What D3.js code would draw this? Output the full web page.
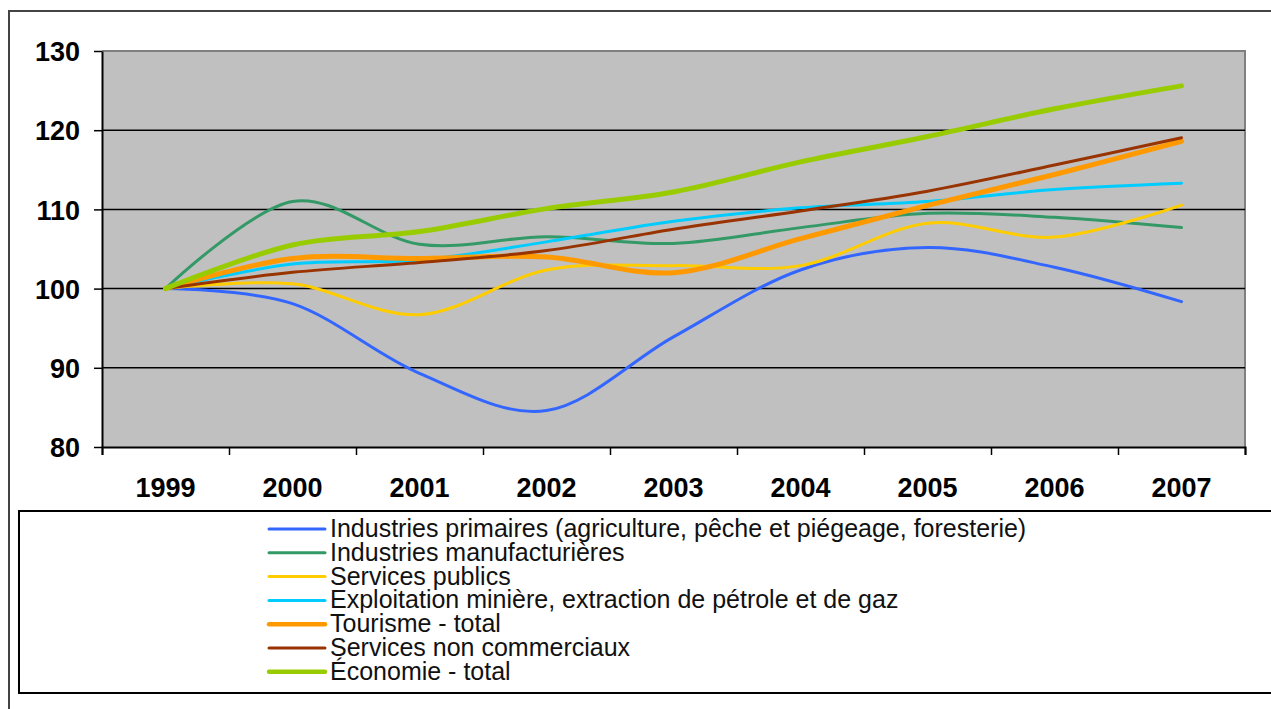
<!DOCTYPE html>
<html>
<head>
<meta charset="utf-8">
<script src="https://cdn.jsdelivr.net/npm/d3@7"></script>
<style>
  body { margin: 0; background: #fff; }
  svg { display: block; font-family: "Liberation Sans", Arial, Helvetica, sans-serif; }
  .tick text { fill: #000; }
</style>
</head>
<body>
<svg id="chart" width="1271" height="709"></svg>
<script>
// categories (years)
const years = ["1999", "2000", "2001", "2002", "2003", "2004", "2005", "2006", "2007"];

// series values, index 1999 = 100
const primaires      = [100, 98.1, 89.3, 84.6, 93.9, 102.35, 105.2, 102.7, 98.35];
const manufacture    = [100, 111.0, 105.6, 106.55, 105.7, 107.7, 109.5, 109.0, 107.7];
const servPublics    = [100, 100.6, 96.7, 102.35, 102.9, 102.9, 108.25, 106.5, 110.55];
const exploitation   = [100, 103.1, 103.6, 105.9, 108.5, 110.2, 111.0, 112.5, 113.3];
const tourisme       = [100, 103.8, 103.8, 104.0, 102.0, 106.3, 110.5, 114.4, 118.6];
const servNonComm    = [100, 102.05, 103.3, 104.8, 107.5, 109.8, 112.3, 115.6, 119.05];
const economie       = [100, 105.5, 107.2, 110.1, 112.2, 116.0, 119.2, 122.7, 125.6];

const yTicks = [80, 90, 100, 110, 120, 130];

const series = [
  { name: "Industries primaires (agriculture, pêche et piégeage, foresterie)", values: primaires, color: "#3366ff", w: 3 },
  { name: "Industries manufacturières", values: manufacture, color: "#339966", w: 3 },
  { name: "Services publics", values: servPublics, color: "#ffcc00", w: 3 },
  { name: "Exploitation minière, extraction de pétrole et de gaz", values: exploitation, color: "#00ccff", w: 3 },
  { name: "Tourisme - total", values: tourisme, color: "#ff9900", w: 5 },
  { name: "Services non commerciaux", values: servNonComm, color: "#993300", w: 3 },
  { name: "Économie - total", values: economie, color: "#99cc00", w: 5 }
];

// plot area
const plot = { left: 102, right: 1245, top: 51, bottom: 447 };

const svg = d3.select("#chart");

// outer chart border
svg.append("rect")
    .attr("x", 9).attr("y", 11)
    .attr("width", 1300).attr("height", 760)
    .attr("fill", "#fff")
    .attr("stroke", "#444").attr("stroke-width", 2);

const x = d3.scaleBand()
    .domain(years)
    .range([plot.left, plot.right])
    .padding(0);

const xIdx = d3.scaleLinear()
    .domain([0, years.length])
    .range([plot.left, plot.right]);

const y = d3.scaleLinear()
    .domain([80, 130])
    .range([plot.bottom, plot.top]);

// plot background
svg.append("rect")
    .attr("x", plot.left).attr("y", plot.top)
    .attr("width", plot.right - plot.left)
    .attr("height", plot.bottom - plot.top)
    .attr("fill", "#c0c0c0");

// top and right border of the plot
svg.append("path")
    .attr("d", `M${plot.left},${plot.top}H${plot.right}V${plot.bottom}`)
    .attr("fill", "none")
    .attr("stroke", "#808080")
    .attr("stroke-width", 2);

// gridlines
svg.append("g")
    .selectAll("line")
    .data(yTicks.filter(t => t > 80 && t < 130))
    .join("line")
    .attr("x1", plot.left).attr("x2", plot.right)
    .attr("y1", d => y(d)).attr("y2", d => y(d))
    .attr("stroke", "#000")
    .attr("stroke-width", 1.5);

// y axis
const yAxis = svg.append("g")
    .attr("transform", `translate(${plot.left},0)`)
    .call(d3.axisLeft(y).tickValues(yTicks).tickSize(8).tickPadding(14).tickSizeOuter(0));
yAxis.select(".domain").attr("stroke", "#000").attr("stroke-width", 2);
yAxis.selectAll(".tick line").attr("stroke", "#000").attr("stroke-width", 1.5);
yAxis.selectAll(".tick text")
    .attr("font-size", 27)
    .attr("font-weight", "bold")
    .attr("dy", "0.36em");

// x axis: tick marks between categories
const xAxis = svg.append("g")
    .attr("transform", `translate(0,${plot.bottom})`)
    .call(d3.axisBottom(xIdx).tickValues(d3.range(years.length + 1)).tickSize(8).tickFormat(""));
xAxis.select(".domain").attr("stroke", "#000").attr("stroke-width", 2);
xAxis.selectAll(".tick line").attr("stroke", "#000").attr("stroke-width", 1.5);

// x labels at category centres
svg.append("g")
    .selectAll("text")
    .data(years)
    .join("text")
    .attr("x", d => x(d) + x.bandwidth() / 2)
    .attr("y", 497)
    .attr("text-anchor", "middle")
    .attr("font-size", 27)
    .attr("font-weight", "bold")
    .text(d => d);

// lines, smoothed like the spreadsheet
const line = d3.line()
    .x((d, i) => x(years[i]) + x.bandwidth() / 2)
    .y(d => y(d))
    .curve(d3.curveCatmullRom.alpha(0));

svg.append("g")
    .selectAll("path")
    .data(series)
    .join("path")
    .attr("d", d => line(d.values))
    .attr("fill", "none")
    .attr("stroke", d => d.color)
    .attr("stroke-width", d => d.w)
    .attr("stroke-linecap", "round")
    .attr("stroke-linejoin", "round");

// legend
svg.append("rect")
    .attr("x", 19).attr("y", 511)
    .attr("width", 1300).attr("height", 182)
    .attr("fill", "#fff")
    .attr("stroke", "#000").attr("stroke-width", 2);

const legend = svg.append("g")
    .selectAll("g")
    .data(series)
    .join("g")
    .attr("transform", (d, i) => `translate(0,${529 + i * 23.8})`);

legend.append("line")
    .attr("x1", 269).attr("x2", 325)
    .attr("stroke", d => d.color)
    .attr("stroke-width", d => d.w === 5 ? 4.5 : 3)
    .attr("stroke-linecap", "round");

legend.append("text")
    .attr("x", 330)
    .attr("y", 8)
    .attr("font-size", 25)
    .attr("fill", "#111")
    .text(d => d.name);
</script>
</body>
</html>
